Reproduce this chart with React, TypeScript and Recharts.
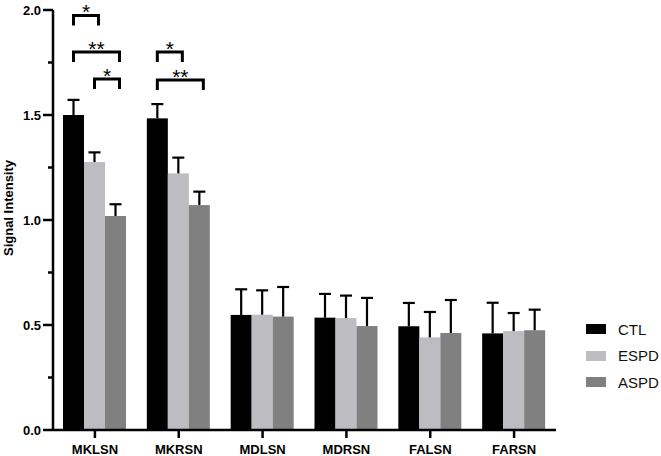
import { BarChart, Bar, XAxis, YAxis, Label } from 'recharts';

const categories = ['MKLSN', 'MKRSN', 'MDLSN', 'MDRSN', 'FALSN', 'FARSN'];
const ctlMean = [1.5, 1.484, 0.548, 0.535, 0.494, 0.46];
const ctlErr = [0.072, 0.068, 0.122, 0.113, 0.111, 0.146];
const espdMean = [1.276, 1.222, 0.549, 0.533, 0.441, 0.471];
const espdErr = [0.046, 0.075, 0.116, 0.107, 0.121, 0.086];
const aspdMean = [1.019, 1.071, 0.54, 0.495, 0.462, 0.475];
const aspdErr = [0.056, 0.064, 0.141, 0.134, 0.157, 0.098];
const yTicks = [0, 0.25, 0.5, 0.75, 1, 1.25, 1.5, 1.75, 2];

// significance brackets: group index from/to (0=CTL,1=ESPD,2=ASPD), height in data units
const brackets = [
  { cat: 'MKLSN', from: 0, to: 1, level: 1.974, mark: '*' },
  { cat: 'MKLSN', from: 0, to: 2, level: 1.8, mark: '**' },
  { cat: 'MKLSN', from: 1, to: 2, level: 1.671, mark: '*' },
  { cat: 'MKRSN', from: 0, to: 1, level: 1.8, mark: '*' },
  { cat: 'MKRSN', from: 0, to: 2, level: 1.667, mark: '**' },
];

const series = [
  { key: 'CTL', err: 'CTL_err', color: '#000000' },
  { key: 'ESPD', err: 'ESPD_err', color: '#bdbdc1' },
  { key: 'ASPD', err: 'ASPD_err', color: '#808080' },
];

const rows = categories.map((c, i) => ({
  name: c,
  CTL: ctlMean[i], CTL_err: ctlErr[i],
  ESPD: espdMean[i], ESPD_err: espdErr[i],
  ASPD: aspdMean[i], ASPD_err: aspdErr[i],
}));

const FONT = '"Liberation Sans", Arial, sans-serif';

function makeShape(dataKey: string, errKey: string, fill: string, last: boolean) {
  return (props: any) => {
    const { x, y, width, height, payload } = props;
    const v = payload[dataKey];
    const k = height / v; // px per unit from the bar's own scale
    const top = y - payload[errKey] * k;
    const cx = x + width / 2;
    const base = y + height;
    const marks = last ? brackets.filter(b => b.cat === payload.name) : [];
    const groupX = x - 2 * width;
    return (
      <g>
        <rect x={x} y={y} width={width} height={height} fill={fill} />
        <line x1={cx} x2={cx} y1={y} y2={top} stroke="#000" strokeWidth={2.2} />
        <line x1={cx - 6} x2={cx + 6} y1={top} y2={top} stroke="#000" strokeWidth={2.2} />
        {marks.map((b, i) => {
          const by = base - b.level * k;
          const x1 = groupX + (b.from + 0.5) * width;
          const x2 = groupX + (b.to + 0.5) * width + 4;
          return (
            <g key={i}>
              <path d={`M${x1},${by + 10} L${x1},${by} L${x2},${by} L${x2},${by + 10}`}
                fill="none" stroke="#000" strokeWidth={3} />
              <text x={(x1 + x2) / 2} y={by + 4} textAnchor="middle" fontSize={21} fontFamily={FONT} fill="#000">{b.mark}</text>
            </g>
          );
        })}
      </g>
    );
  };
}

function YTick(props: any) {
  const { x, y, payload } = props;
  const major = Math.abs(payload.value * 2 - Math.round(payload.value * 2)) < 1e-6;
  return (
    <g>
      <line x1={x - (major ? 10 : 5)} x2={x} y1={y} y2={y} stroke="#000" strokeWidth={2.5} />
      {major && (
        <text x={x - 12} y={y + 4.5} textAnchor="end" fontSize={13} fontWeight="bold" fontFamily={FONT} fill="#000">
          {payload.value.toFixed(1)}
        </text>
      )}
    </g>
  );
}

function XTick(props: any) {
  const { x, y, payload } = props;
  return (
    <text x={x} y={y + 16} textAnchor="middle" fontSize={13} fontWeight="bold" fontFamily={FONT} fill="#000">
      {payload.value}
    </text>
  );
}

function LegendBox() {
  return (
    <div style={{ position: 'absolute', left: 586, top: 316, fontFamily: FONT, fontSize: 15, color: '#111' }}>
      {series.map(s => (
        <div key={s.key} style={{ height: 26.5, display: 'flex', alignItems: 'center' }}>
          <span style={{ width: 20, height: 10, background: s.color, display: 'inline-block', marginRight: 12 }} />
          <span>{s.key}</span>
        </div>
      ))}
    </div>
  );
}

export default function App() {
  return (
    <div style={{ position: 'fixed', left: 0, top: 0, width: 661, height: 456, background: '#fff' }}>
      <BarChart width={661} height={456} data={rows} margin={{ top: 10, right: 105, bottom: 0, left: 0 }}
        barGap={0} barSize={21}>
        <XAxis dataKey="name" height={26} tick={<XTick />} tickSize={8} tickMargin={0}
          axisLine={{ stroke: '#000', strokeWidth: 2.5 }} tickLine={{ stroke: '#000', strokeWidth: 2.5 }} />
        <YAxis width={53} domain={[0, 2]} ticks={yTicks} interval={0} tick={<YTick />} tickSize={0} tickMargin={0}
          tickLine={false} axisLine={{ stroke: '#000', strokeWidth: 2.5 }}>
          <Label value="Signal Intensity" position="insideLeft"
            content={(p: any) => {
              const vb = p.viewBox;
              const cx = 8;
              const cy = vb.y + vb.height / 2 - 12;
              return (
                <text x={cx} y={cy} transform={`rotate(-90 ${cx} ${cy})`} textAnchor="middle" dominantBaseline="central"
                  fontSize={13} fontWeight="bold" fontFamily={FONT} fill="#000">Signal Intensity</text>
              );
            }} />
        </YAxis>
        {series.map((s, i) => (
          <Bar key={s.key} dataKey={s.key} fill={s.color} isAnimationActive={false}
            shape={makeShape(s.key, s.err, s.color, i === series.length - 1)} />
        ))}
      </BarChart>
      <LegendBox />
    </div>
  );
}
